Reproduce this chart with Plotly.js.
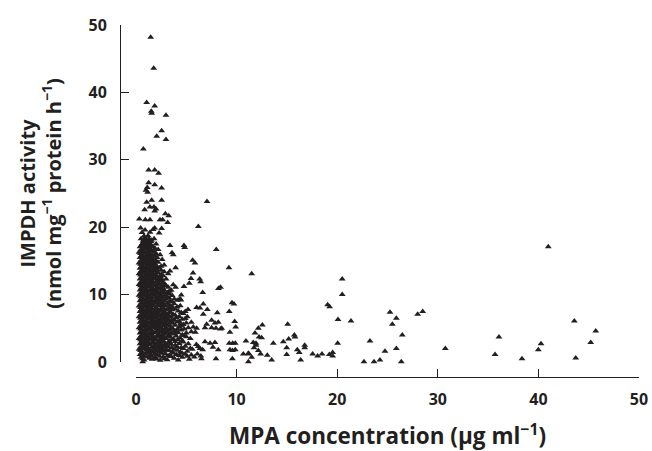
<!DOCTYPE html>
<html>
<head>
<meta charset="utf-8">
<script src="https://cdn.plot.ly/plotly-3.0.1.min.js"></script>
<style>html,body{margin:0;padding:0;background:#fff;}#chart{width:652px;height:451px;}</style>
</head>
<body>
<div id="chart"></div>
<script>
// MPA concentration (µg/ml), IMPDH activity (nmol/mg protein/h) pairs
const highPoints = [
  [1.46,48.2],[1.76,43.6],[1.06,38.5],[1.86,38.0],[1.52,37.2],[1.56,36.9],[2.98,36.6],[2.55,34.3],
  [2.06,33.5],[2.98,33.0],[0.73,31.6],[1.26,28.5],[1.86,28.5],[2.25,28.0],[1.26,26.6],[1.86,26.3],
  [1.12,25.9],[0.99,25.5],[1.16,25.2],[2.55,25.8],[1.06,23.7],[1.56,24.0],[2.55,24.0],[7.06,23.8],
  [0.86,22.6],[1.39,23.0],[1.79,23.0],[1.99,22.7],[1.86,22.4],[2.92,22.0],[3.25,21.7],[0.33,21.2],
  [0.93,21.1],[1.39,21.1],[2.39,21.1],[2.65,21.1],[3.15,20.7],[0.46,19.9],[1.86,19.9],[2.55,19.8],
  [6.2,20.1]
];
const midPoints = [
  [3.38,17.3],[4.77,17.3],[4.84,17.0],[7.98,16.7],[3.58,16.2],[3.71,15.9],[5.63,15.1],[5.86,14.7],
  [9.24,14.0],[3.94,14.0],[3.38,13.5],[5.67,13.2],[5.47,12.4],[6.33,12.3],[6.43,11.9],[5.3,11.7],
  [4.77,11.2],[3.94,11.1],[8.2,10.9],[8.4,11.1],[6.63,10.3],[4.37,9.4],[4.47,9.2],[9.54,8.8],
  [9.74,8.6],[6.69,8.6],[6.03,8.1],[6.36,8.0],[5.17,7.8],[7.09,7.8],[4.7,7.2],[9.27,7.5],
  [8.08,7.3],[6.69,7.1],[7.52,6.2],[7.85,5.8],[8.18,5.9],[9.81,6.0],[7.03,5.6],[6.86,5.1],
  [7.52,5.1],[7.95,5.0],[8.52,5.0],[8.4,4.9],[9.91,5.2],[5.7,5.2],[6.03,5.0],[9.34,4.4],
  [6.86,3.0],[7.36,2.8],[7.85,2.9],[9.27,2.8],[9.61,2.8],[9.87,2.8],[10.93,3.1],[6.19,2.3],
  [6.36,2.0],[7.65,2.2],[6.63,1.8],[8.18,1.8],[9.34,1.8],[9.6,1.7],[9.87,1.8],[10.67,1.2],
  [11.17,1.3],[7.95,0.5],[6.5,0.5],[6.45,0.9],[9.58,0.5],[0.67,0.05]
];
const tailPoints = [
  [11.5,13.1],[20.5,12.3],[20.5,10.0],[19.05,8.5],[19.25,8.2],[20.08,6.3],[21.37,6.1],[25.25,7.4],
  [25.88,6.5],[25.48,5.6],[28.0,7.1],[28.5,7.5],[26.47,4.0],[15.08,5.6],[12.56,5.5],[12.16,5.0],
  [11.83,4.3],[12.23,3.7],[12.49,3.6],[11.66,2.9],[11.93,2.8],[11.93,2.5],[11.73,2.1],[12.16,1.7],
  [12.39,1.2],[11.23,1.2],[11.5,0.7],[11.17,0.05],[13.65,2.8],[13.05,1.0],[13.49,0.3],[14.64,3.0],
  [15.18,3.4],[15.74,4.0],[15.8,3.7],[14.98,2.1],[14.98,1.1],[16.03,1.8],[16.23,1.4],[16.77,2.5],
  [16.77,2.1],[16.37,0.3],[17.56,1.2],[18.06,0.9],[18.49,1.2],[19.22,1.1],[19.55,1.4],[19.55,0.9],
  [20.05,2.8],[23.26,3.1],[24.75,1.6],[25.88,2.0],[22.66,0.05],[23.66,0.05],[24.25,0.3],[26.37,0.05],
  [40.98,17.1],[43.57,6.1],[45.7,4.6],[45.2,2.9],[43.71,0.6],[36.08,3.7],[35.69,1.1],[38.37,0.5],
  [40.26,2.7],[39.99,1.8],[30.75,2.0]
];
const clusterPoints = [
  [0.8,0.3],[1.6,0.4],[2.4,0.25],[3.1,0.35],[4.2,0.3],[5.3,0.4],
  [0.5,0.7],[1.1,0.75],[1.9,0.65],[2.7,0.7],[3.5,0.8],[4.6,0.7],[5.8,0.75],
  [0.4,1.1],[0.9,1.15],[1.4,1.05],[2.1,1.1],[2.9,1.2],[3.3,1.0],[4.0,1.1],[4.9,1.15],[5.5,1.05],[6.1,1.2],
  [0.6,1.5],[1.2,1.45],[1.7,1.55],[2.3,1.5],[2.8,1.6],[3.6,1.45],[4.4,1.5],[5.1,1.6],
  [0.3,1.9],[0.8,1.95],[1.3,1.85],[1.9,1.9],[2.5,2.0],[3.0,1.85],[3.8,1.9],[4.7,2.0],[5.6,1.9],
  [0.5,2.3],[1.0,2.35],[1.6,2.25],[2.2,2.3],[2.6,2.4],[3.2,2.3],[4.1,2.25],[4.9,2.35],
  [0.4,2.7],[0.9,2.75],[1.4,2.65],[2.0,2.7],[2.4,2.8],[2.9,2.7],[3.5,2.65],[4.3,2.75],[5.2,2.7],[6.0,2.6],
  [0.6,3.1],[1.1,3.15],[1.7,3.05],[2.3,3.1],[2.7,3.2],[3.3,3.1],[3.9,3.05],[4.6,3.15],
  [0.3,3.5],[0.8,3.55],[1.3,3.45],[1.9,3.5],[2.5,3.6],[3.0,3.5],[3.7,3.45],[4.4,3.55],[5.4,3.5],
  [0.5,3.9],[1.0,3.95],[1.5,3.85],[2.1,3.9],[2.6,4.0],[3.2,3.9],[4.0,3.85],[4.8,3.95],
  [0.4,4.3],[0.9,4.35],[1.4,4.25],[1.8,4.3],[2.4,4.4],[2.9,4.3],[3.5,4.25],[4.2,4.35],[5.0,4.3],[5.9,4.4],
  [0.6,4.7],[1.1,4.75],[1.6,4.65],[2.2,4.7],[2.7,4.8],[3.3,4.7],[3.8,4.65],[4.5,4.75],
  [0.3,5.1],[0.8,5.15],[1.3,5.05],[1.9,5.1],[2.4,5.2],[3.0,5.1],[3.6,5.05],[4.3,5.15],[5.2,5.1],
  [0.5,5.5],[1.0,5.55],[1.5,5.45],[2.0,5.5],[2.6,5.6],[3.1,5.5],[3.9,5.45],[4.7,5.55],
  [0.4,5.9],[0.9,5.95],[1.4,5.85],[1.9,5.9],[2.3,6.0],[2.8,5.9],[3.4,5.85],[4.1,5.95],[5.5,5.9],
  [0.6,6.3],[1.1,6.35],[1.7,6.25],[2.2,6.3],[2.7,6.4],[3.2,6.3],[3.8,6.25],[4.6,6.35],
  [0.3,6.7],[0.8,6.75],[1.2,6.65],[1.8,6.7],[2.4,6.8],[2.9,6.7],[3.5,6.65],[4.3,6.75],[5.1,6.7],
  [0.5,7.1],[1.0,7.15],[1.5,7.05],[2.0,7.1],[2.6,7.2],[3.0,7.1],[3.7,7.05],
  [0.4,7.5],[0.9,7.55],[1.4,7.45],[1.9,7.5],[2.3,7.6],[2.8,7.5],[3.4,7.45],[4.2,7.55],[4.9,7.5],
  [0.6,7.9],[1.1,7.95],[1.6,7.85],[2.1,7.9],[2.7,8.0],[3.2,7.9],[3.9,7.85],
  [0.3,8.3],[0.8,8.35],[1.3,8.25],[1.8,8.3],[2.4,8.4],[2.9,8.3],[3.6,8.25],[4.4,8.35],
  [0.5,8.7],[1.0,8.75],[1.5,8.65],[2.0,8.7],[2.6,8.8],[3.1,8.7],[3.8,8.65],
  [0.4,9.1],[0.9,9.15],[1.4,9.05],[1.9,9.1],[2.3,9.2],[2.8,9.1],[3.4,9.05],[4.1,9.15],
  [0.6,9.5],[1.1,9.55],[1.6,9.45],[2.2,9.5],[2.7,9.6],[3.3,9.5],
  [0.3,9.9],[0.8,9.95],[1.3,9.85],[1.8,9.9],[2.4,10.0],[2.9,9.9],[3.6,9.85],[4.5,9.95],
  [0.5,10.3],[1.0,10.35],[1.5,10.25],[2.0,10.3],[2.5,10.4],[3.1,10.3],
  [0.4,10.7],[0.9,10.75],[1.4,10.65],[1.9,10.7],[2.3,10.8],[2.8,10.7],[3.5,10.65],
  [0.6,11.1],[1.1,11.15],[1.6,11.05],[2.1,11.1],[2.6,11.2],[3.2,11.1],
  [0.3,11.5],[0.8,11.55],[1.3,11.45],[1.8,11.5],[2.2,11.6],[2.9,11.5],[3.7,11.45],
  [0.5,11.9],[1.0,11.95],[1.5,11.85],[2.0,11.9],[2.5,12.0],
  [0.4,12.3],[0.9,12.35],[1.3,12.25],[1.8,12.3],[2.3,12.4],[3.0,12.3],
  [0.6,12.7],[1.1,12.75],[1.6,12.65],[2.1,12.7],[2.7,12.8],
  [0.3,13.1],[0.8,13.15],[1.2,13.05],[1.7,13.1],[2.2,13.2],[3.2,13.1],
  [0.5,13.5],[1.0,13.55],[1.4,13.45],[1.9,13.5],[2.5,13.6],
  [0.4,13.9],[0.9,13.95],[1.3,13.85],[1.8,13.9],[2.3,14.0],
  [0.6,14.3],[1.1,14.35],[1.6,14.25],[2.0,14.3],[2.8,14.4],
  [0.3,14.7],[0.8,14.75],[1.2,14.65],[1.7,14.7],[2.2,14.8],
  [0.5,15.1],[1.0,15.15],[1.5,15.05],[1.9,15.1],[2.6,15.2],
  [0.4,15.5],[0.9,15.55],[1.3,15.45],[2.1,15.5],
  [0.6,15.9],[1.1,15.95],[1.6,15.85],[2.4,15.9],
  [0.3,16.3],[0.8,16.35],[1.2,16.25],[1.8,16.3],
  [0.5,16.7],[1.0,16.75],[1.5,16.65],[2.2,16.7],
  [0.4,17.1],[0.9,17.15],[1.3,17.05],[1.7,17.1],
  [0.6,17.5],[1.0,17.55],[1.4,17.45],[2.0,17.5],
  [0.7,17.9],[1.1,17.95],[1.5,17.85],
  [0.5,18.3],[0.9,18.35],[1.3,18.25],[1.8,18.3],
  [0.8,18.7],[1.2,18.75],
  [0.6,19.2],[1.4,19.25],[2.3,19.15],
  [0.9,19.6],[1.7,19.65]
];
const clusterFill = [
  [0.65,0.5],[1.35,0.55],[2.05,0.45],[2.85,0.5],[3.8,0.55],
  [0.75,0.9],[1.55,0.95],[2.35,0.85],[3.15,0.9],[4.3,0.95],[5.1,0.85],
  [0.55,1.3],[1.05,1.35],[1.85,1.25],[2.55,1.3],[3.7,1.35],[4.6,1.3],
  [0.45,1.7],[1.0,1.75],[1.5,1.65],[2.1,1.7],[2.65,1.8],[3.3,1.7],[4.1,1.75],
  [0.6,2.1],[1.15,2.15],[1.75,2.05],[2.4,2.1],[2.85,2.2],[3.55,2.1],[4.5,2.15],[5.4,2.05],
  [0.7,2.5],[1.2,2.55],[1.85,2.45],[2.45,2.5],[3.0,2.55],[3.9,2.5],
  [0.55,2.9],[1.15,2.95],[1.65,2.85],[2.2,2.9],[2.75,3.0],[3.25,2.9],[4.7,2.95],
  [0.45,3.3],[0.95,3.35],[1.5,3.25],[2.0,3.3],[2.55,3.4],[3.55,3.3],[4.15,3.35],
  [0.65,3.7],[1.15,3.75],[1.7,3.65],[2.3,3.7],[2.8,3.8],[3.4,3.7],[5.0,3.75],
  [0.7,4.1],[1.25,4.15],[1.6,4.05],[2.25,4.1],[2.75,4.2],[3.3,4.1],[3.85,4.15],[4.6,4.05],
  [0.5,4.5],[1.0,4.55],[1.55,4.45],[2.05,4.5],[2.55,4.6],[3.1,4.5],[3.95,4.55],[5.5,4.5],
  [0.45,4.9],[0.95,4.95],[1.45,4.85],[2.05,4.9],[2.5,5.0],[2.9,4.9],[3.45,4.95],[4.1,4.85],[4.8,4.9],
  [0.65,5.3],[1.15,5.35],[1.65,5.25],[2.2,5.3],[2.8,5.4],[3.4,5.3],[4.5,5.35],
  [0.7,5.7],[1.2,5.75],[1.7,5.65],[2.15,5.7],[2.55,5.8],[3.0,5.7],[3.65,5.75],[4.4,5.65],[5.0,5.8],
  [0.5,6.1],[1.0,6.15],[1.55,6.05],[2.05,6.1],[2.5,6.2],[3.0,6.1],[3.55,6.15],[4.3,6.05],
  [0.45,6.5],[0.95,6.55],[1.45,6.45],[2.0,6.5],[2.55,6.6],[3.05,6.5],[4.0,6.55],[4.9,6.45],
  [0.65,6.9],[1.05,6.95],[1.6,6.85],[2.15,6.9],[2.7,7.0],[3.25,6.9],[3.9,6.95],
  [0.7,7.3],[1.2,7.35],[1.7,7.25],[2.25,7.3],[2.8,7.4],[3.3,7.3],[4.5,7.35],
  [0.5,7.7],[1.0,7.75],[1.5,7.65],[2.0,7.7],[2.5,7.8],[3.0,7.7],[3.6,7.75],
  [0.45,8.1],[0.95,8.15],[1.45,8.05],[2.0,8.1],[2.6,8.2],[3.35,8.1],[4.1,8.15],
  [0.65,8.5],[1.15,8.55],[1.65,8.45],[2.2,8.5],[2.75,8.6],[3.3,8.5],
  [0.7,8.9],[1.2,8.95],[1.7,8.85],[2.2,8.9],[2.6,9.0],[3.6,8.9],
  [0.5,9.3],[1.0,9.35],[1.5,9.25],[2.05,9.3],[2.5,9.4],[3.0,9.3],[3.8,9.35],
  [0.45,9.7],[0.95,9.75],[1.45,9.65],[1.95,9.7],[2.5,9.8],[3.1,9.7],
  [0.65,10.1],[1.15,10.15],[1.65,10.05],[2.2,10.1],[2.75,10.2],[3.35,10.1],
  [0.7,10.5],[1.2,10.55],[1.7,10.45],[2.15,10.5],[2.65,10.6],[3.3,10.5],
  [0.5,10.9],[1.0,10.95],[1.55,10.85],[2.05,10.9],[2.5,11.0],
  [0.45,11.3],[0.95,11.35],[1.45,11.25],[2.0,11.3],[2.45,11.4],[3.0,11.3],
  [0.65,11.7],[1.15,11.75],[1.65,11.65],[2.25,11.7],[2.7,11.8],
  [0.7,12.1],[1.2,12.15],[1.6,12.05],[2.15,12.1],[2.6,12.2],
  [0.5,12.5],[1.0,12.55],[1.5,12.45],[1.95,12.5],[2.45,12.6],
  [0.45,12.9],[0.95,12.95],[1.4,12.85],[1.9,12.9],[2.5,13.0],
  [0.65,13.3],[1.15,13.35],[1.6,13.25],[2.1,13.3],[2.8,13.4],
  [0.7,13.7],[1.2,13.75],[1.65,13.65],[2.1,13.7],
  [0.5,14.1],[1.0,14.15],[1.45,14.05],[2.0,14.1],[2.5,14.2],
  [0.45,14.5],[0.95,14.55],[1.4,14.45],[1.9,14.5],
  [0.65,14.9],[1.1,14.95],[1.6,14.85],[2.05,14.9],
  [0.7,15.3],[1.15,15.35],[1.7,15.25],
  [0.5,15.7],[1.0,15.75],[1.45,15.65],[1.9,15.7],
  [0.45,16.1],[0.95,16.15],[1.4,16.05],[2.0,16.1],
  [0.65,16.5],[1.2,16.55],[1.7,16.45],
  [0.7,16.9],[1.15,16.95],[1.9,16.85],
  [0.55,17.3],[1.15,17.35],[1.55,17.25],
  [0.85,17.7],[1.25,17.75],
  [0.75,18.1],[1.1,18.15],[1.55,18.05]
];
const xTicks = [0, 10, 20, 30, 40, 50];
const yTicks = [0, 10, 20, 30, 40, 50];
const xTitle = 'MPA concentration (µg ml<sup>−1</sup>)';
const yTitle = 'IMPDH activity<br>(nmol mg<sup>−1</sup> protein h<sup>−1</sup>)';

const allPoints = clusterPoints.concat(clusterFill, highPoints, midPoints, tailPoints);
const ink = '#231f20';
const fontFam = '"Open Sans", "DejaVu Sans", sans-serif';

const trace = {
  type: 'scatter', mode: 'markers',
  x: allPoints.map(p => p[0]),
  y: allPoints.map(p => p[1]),
  cliponaxis: false,
  marker: {symbol: 'triangle-up', size: 6, color: ink, line: {width: 0}},
  hoverinfo: 'x+y'
};

const axisCommon = {
  range: [0, 50], showgrid: false, zeroline: false,
  showline: true, linecolor: ink, linewidth: 1.2,
  ticks: 'inside', ticklen: 8, tickwidth: 1.2, tickcolor: ink,
  tickfont: {family: fontFam, size: 16, color: ink, weight: 700},
  anchor: 'free', position: 0, automargin: false
};

const layout = {
  width: 652, height: 451,
  margin: {l: 120, r: 13, t: 25, b: 74},
  paper_bgcolor: '#fff', plot_bgcolor: '#fff',
  showlegend: false,
  font: {family: fontFam, color: ink},
  xaxis: Object.assign({}, axisCommon, {
    domain: [0.0308, 1], tickvals: xTicks, ticklabelstandoff: 8,
    title: {text: xTitle, standoff: 22, font: {family: fontFam, size: 22.5, color: ink, weight: 700}}
  }),
  yaxis: Object.assign({}, axisCommon, {
    domain: [0.0426, 1], tickvals: yTicks, ticklabelstandoff: 10,
    title: {text: yTitle, standoff: 20, font: {family: fontFam, size: 20, color: ink, weight: 700}}
  })
};

Plotly.newPlot('chart', [trace], layout, {displayModeBar: false, staticPlot: true});
</script>
</body>
</html>
